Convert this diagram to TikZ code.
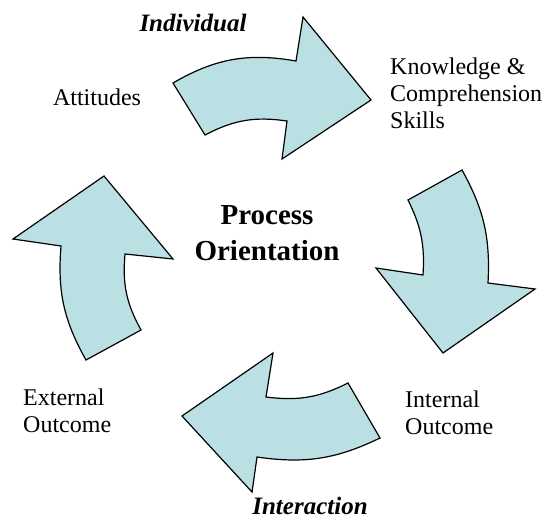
\documentclass[tikz,border=0pt]{standalone}
\usepackage{fontspec}
\setmainfont{Liberation Serif}
\definecolor{arrowblue}{RGB}{187,224,228}

\begin{document}
\begin{tikzpicture}[x=1pt, y=-1pt,
    cyclearrow/.style={draw=black, line width=1.2pt, fill=arrowblue, line join=miter},
    stagetext/.style={inner sep=0pt, align=left, font=\fontsize{24}{27}\selectfont},
    phasetext/.style={inner sep=0pt, font=\fontsize{25}{30}\selectfont\bfseries\itshape},
    centertext/.style={inner sep=0pt, align=center, font=\fontsize{29}{36.5}\selectfont\bfseries}]

    \useasboundingbox (0,0) rectangle (553,519);

    \draw[cyclearrow] (173,83) to[bend left=20] (296,61) -- (303,17) -- (371,100) -- (282,159) -- (287,121) to[bend right=18] (205,135) -- cycle;
    \draw[cyclearrow] (462,170) to[bend left=16] (488,283) -- (535,289) -- (443,353) -- (376,268) -- (423,275) to[bend right=15] (408,200) -- cycle;
    \draw[cyclearrow] (380,438) to[bend left=17] (257,457) -- (252,492) -- (182,416) -- (273,353) -- (266,397) to[bend right=17] (348,383) -- cycle;
    \draw[cyclearrow] (61,246) to[bend right=17] (86,360) -- (141,330) to[bend left=17] (125,254) -- (173,259) -- (104,176) -- (13,239) -- cycle;

    \node[phasetext, anchor=base] (individual) at (193,32) {Individual};
    \node[stagetext, anchor=north west] (knowledge) at (390,58) {Knowledge \&\\Comprehension\\Skills};
    \node[stagetext] (attitudes) at (97,97) {Attitudes};
    \node[centertext] (process) at (267,233) {Process\\Orientation};
    \node[stagetext, anchor=north west] (internal) at (405,391) {Internal\\Outcome};
    \node[stagetext, anchor=north west] (external) at (23,389) {External\\Outcome};
    \node[phasetext, anchor=base] (interaction) at (310,514) {Interaction};

\end{tikzpicture}
\end{document}
